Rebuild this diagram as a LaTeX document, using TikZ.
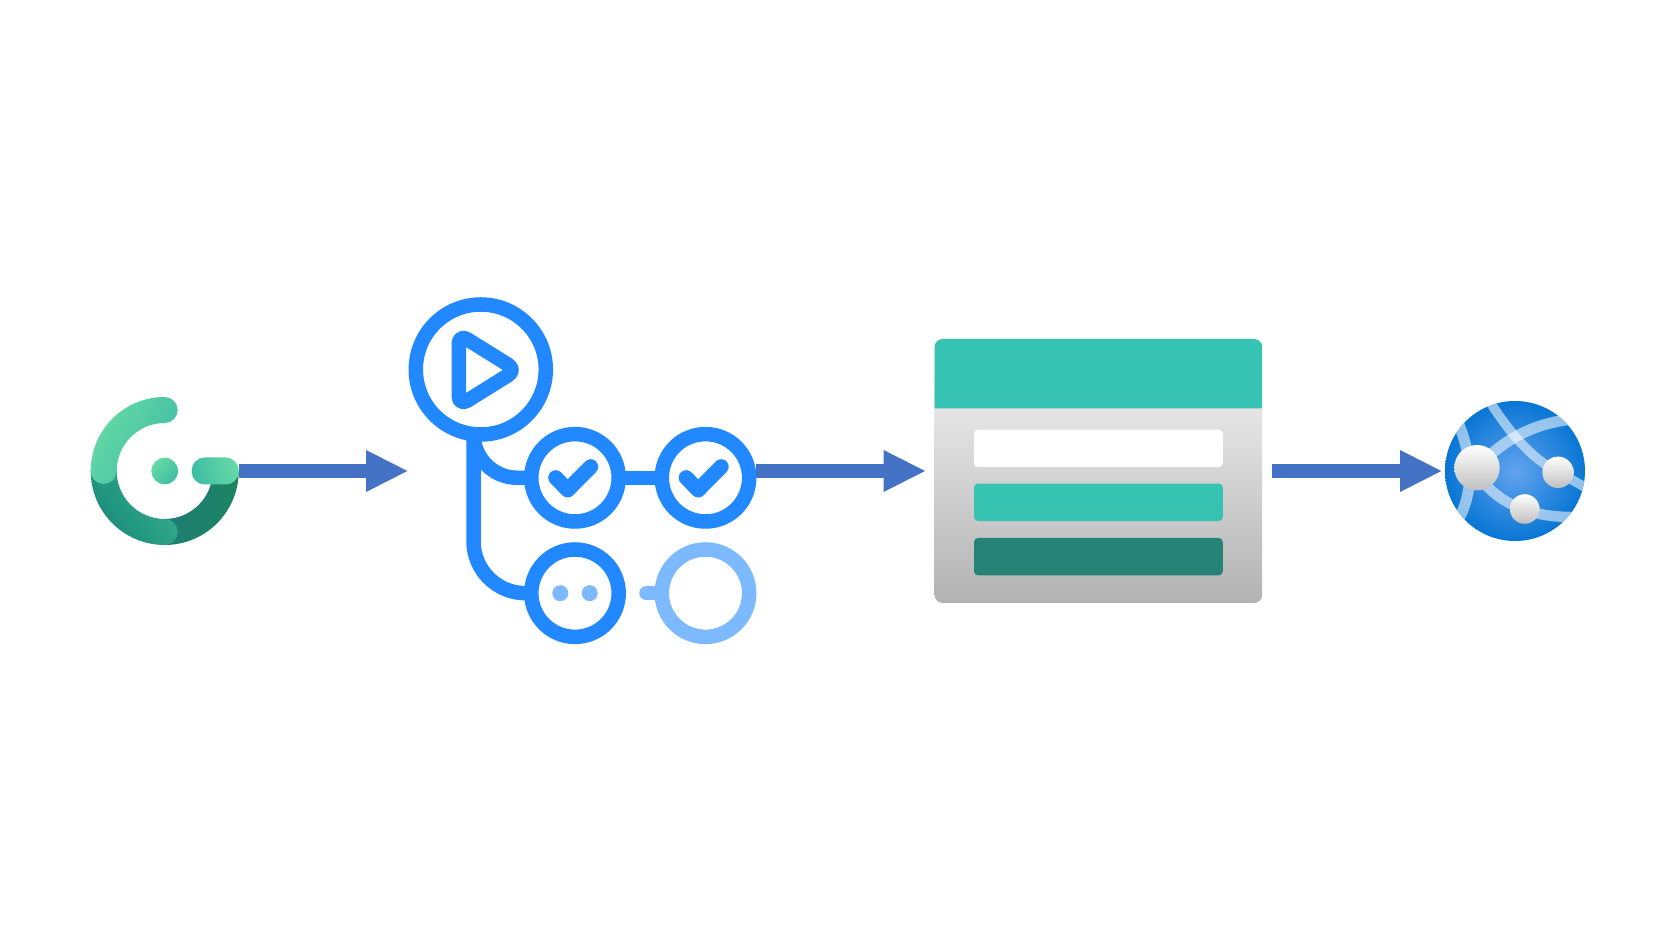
\documentclass[tikz,border=0pt]{standalone}
\usepackage{tikz}
\usepackage{xcolor}
\usetikzlibrary{arrows.meta}
\definecolor{flowblue}{HTML}{4472C4}
\definecolor{jobblue}{HTML}{2188FF}
\definecolor{idleblue}{HTML}{7DB9FF}
\definecolor{headteal}{HTML}{36C3B1}
\definecolor{rowdark}{HTML}{258277}
\definecolor{leafa}{HTML}{66D9A6}
\definecolor{leafb}{HTML}{3FBDA3}
\definecolor{ringa}{HTML}{178A7A}
\definecolor{ringb}{HTML}{37AF8C}
\definecolor{ringc}{HTML}{207B79}
\definecolor{ringd}{HTML}{1A8660}
\definecolor{globein}{HTML}{62A3EE}
\definecolor{globeout}{HTML}{0876D4}
\tikzset{
	flowarrow/.style={line width=1.33mm,flowblue,shorten >=-.15mm,-{Triangle[length=4.25mm,width=3.85mm]}},
	iconhub/.style={inner sep=0,outer sep=0},
	jobring/.style={circle,draw=jobblue,line width=1.45mm,minimum size=8.74mm,inner sep=0,outer sep=0},
	jobline/.style={jobblue,line width=1.45mm},
	tickline/.style={jobblue,line width=1.5mm,line cap=round,line join=round},
	tablerow/.style={rounded corners=.4mm,minimum width=24.87mm,minimum height=3.75mm,inner sep=0,outer sep=0},
	strand/.style={white,opacity=.55,line width=1.05mm},
	ball/.style={circle,inner sep=0,outer sep=0,top color=white,middle color=white!97!black,bottom color=white!75!black}
}
\begin{document}
\begin{tikzpicture}[x=.1mm,y=.1mm]
	\useasboundingbox[fill=white] (0,0) rectangle (1680,940);
	%Icon anchors
		\node[iconhub,circle,minimum size=14.8mm] (gitver) at (164.7,469) {};
		\node[iconhub,minimum width=34.9mm,minimum height=35mm] (actions) at (581.5,469) {};
	%G logo
		\begin{scope}[shift={(gitver)}]
			\shade[left color=ringc,right color=ringd,shading angle=70]
				(0,-74) arc[start angle=270,end angle=360,radius=74] -- (48,0)
				arc[start angle=0,end angle=-90,radius=48] -- cycle;
			\shade[left color=ringa,right color=ringb,shading angle=125]
				(-74,0) arc[start angle=180,end angle=270,radius=74]
				arc[start angle=-90,end angle=90,radius=13]
				arc[start angle=270,end angle=180,radius=48] -- cycle;
			\shade[left color=leafa,right color=leafb,shading angle=60]
				(-74,0) arc[start angle=180,end angle=90,radius=74]
				arc[start angle=90,end angle=-90,radius=13]
				arc[start angle=90,end angle=180,radius=48]
				arc[start angle=0,end angle=-180,radius=13] -- cycle;
			\shade[left color=leafb,right color=leafa,shading angle=105,rounded corners=1.3mm]
				(27,-13.5) rectangle (74,13.5);
			\shade[left color=leafa,right color=leafb,shading angle=45] (0,0) circle (13.3);
		\end{scope}
	%Workflow rings
		\node[jobring,minimum size=13mm] (runplay) at (480.8,570.5) {};
		\node[jobring] (jobtick) at (575,462.2) {};
		\node[jobring] (jobdone) at (705.5,462.2) {};
		\node[jobring] (jobwait) at (575,346.8) {};
		\node[jobring,draw=idleblue] (jobidle) at (705.5,346.8) {};
		\coordinate (trunk) at (473.5,507);
		\coordinate (stub) at (646.5,346.8);
	%Workflow lines
		\draw[jobline,rounded corners=4.4mm] (trunk) |- (jobtick);
		\draw[jobline,rounded corners=5.2mm] (trunk) |- (jobwait);
		\draw[jobline] (jobtick) -- (jobdone);
		\draw[idleblue,line width=1.45mm,line cap=round] (stub) -- (jobidle);
	%Play mark
		\draw[jobline,rounded corners=1mm,line join=round]
			(458.75,606) -- (516.6,570) -- (458.75,534) -- cycle;
	%Ticks
		\foreach \i in {0,130.5}
		{
			\draw[tickline,xshift=\i*.1mm] (555.7,462.3) -- (567.7,450) -- (590.7,473.3);
		}
	%Waiting dots
		\foreach \i in {560.3,589.7}
		{
			\fill[idleblue] (\i,346.8) circle (8);
		}
	%Table
		\node[top color=white!97!black,bottom color=white!70!black,rounded corners=.8mm,inner sep=0,outer sep=1mm,minimum width=32.76mm,minimum height=26.4mm] (storage) at (1098.4,469) {};
		\fill[headteal] (934.6,531.5) [rounded corners=.8mm] -- (934.6,601) -- (1262.2,601) [sharp corners] -- (1262.2,531.5) -- cycle;
		\node[tablerow,fill=white] (rowtop) at (1098.4,491.5) {};
		\node[tablerow,fill=headteal] (rowmid) at (1098.4,437.7) {};
		\node[tablerow,fill=rowdark] (rowlow) at (1098.4,383.3) {};
	%Globe
		\node[circle,inner sep=0,outer sep=.4mm,minimum size=14mm,inner color=globein,outer color=globeout] (webapp) at (1515,469) {};
		\begin{scope}
			\clip (webapp.center) circle (70);
			\draw[strand,line width=1.1mm] (1477,472) .. controls (1500,497) and (1530,517) .. (1575,521);
			\draw[strand,line width=.95mm] (1490,538) .. controls (1508,510) and (1530,482) .. (1558,468) -- (1590,450);
			\draw[strand,line width=1.1mm] (1457,520) .. controls (1470,490) and (1478,450) .. (1455,415);
			\draw[strand,line width=1.05mm] (1477,467) .. controls (1490,445) and (1520,422) .. (1575,423);
		\end{scope}
		\node[ball,minimum size=4.54mm] (nodea) at (1477,472.3) {};
		\node[ball,minimum size=3.14mm] (nodeb) at (1558,467.7) {};
		\node[ball,minimum size=2.96mm] (nodec) at (1524.7,431) {};
	%Arrows
		\draw[flowarrow] (gitver) -- (actions);
		\draw[flowarrow] (actions) -- (storage);
		\draw[flowarrow] (storage) -- (webapp);
\end{tikzpicture}
\end{document}
